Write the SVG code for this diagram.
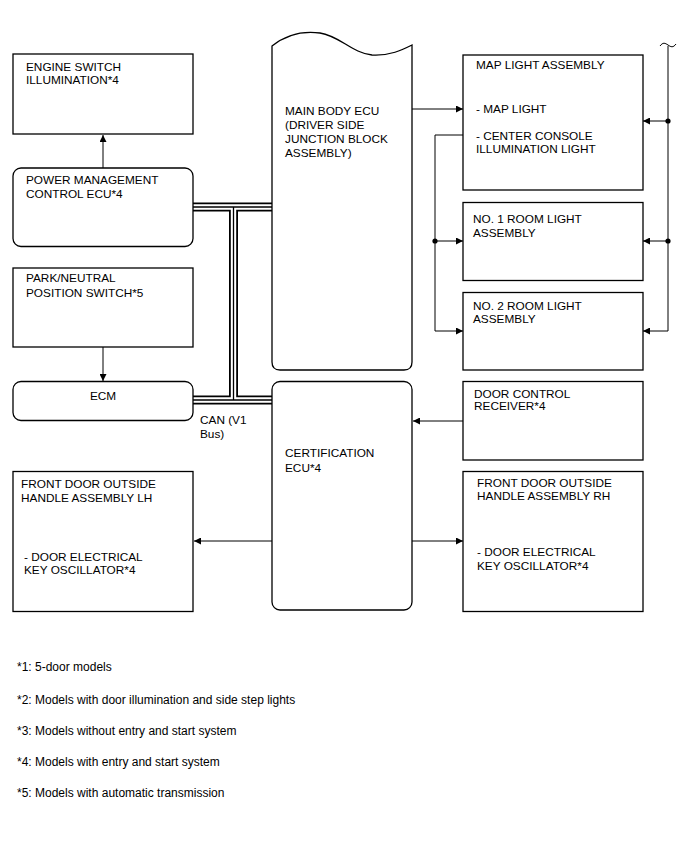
<svg xmlns="http://www.w3.org/2000/svg" width="688" height="852" viewBox="0 0 688 852">
<style>
text{font-family:"Liberation Sans",Arial,sans-serif;font-size:11.8px;fill:#000}
.box{fill:#fff;stroke:#000;stroke-width:1.3}
.ln{fill:none;stroke:#000;stroke-width:1}
.fn{font-size:12px}
</style>
<defs>
<marker id="ah" viewBox="0 0 10 10" refX="10" refY="5" markerWidth="9" markerHeight="7" markerUnits="userSpaceOnUse" orient="auto">
<path d="M0,0 L10,5 L0,10 Z" fill="#000"/>
</marker>
</defs>
<rect width="688" height="852" fill="#fff"/>
<g id="connectors">
<path class="ln" d="M103,168 V135" marker-end="url(#ah)"/>
<path class="ln" d="M103,347 V381" marker-end="url(#ah)"/>
<path class="ln" d="M412,109 H463" marker-end="url(#ah)"/>
<path class="ln" d="M463,135 H435 V331 H463" marker-end="url(#ah)"/>
<path class="ln" d="M435,241 H463" marker-end="url(#ah)"/>
<circle cx="435" cy="241" r="2.6"/>
<path class="ln" d="M668,46 V331 H643" marker-end="url(#ah)"/>
<path class="ln" d="M668,121 H643" marker-end="url(#ah)"/>
<path class="ln" d="M668,241 H643" marker-end="url(#ah)"/>
<circle cx="668" cy="121" r="2.6"/>
<circle cx="668" cy="241" r="2.6"/>
<path class="ln" d="M660,46 c3,-4 5,-3 8,-1 s5,3 8,-1"/>
<path class="ln" d="M463,421 H413" marker-end="url(#ah)"/>
<path class="ln" d="M272,541 H194" marker-end="url(#ah)"/>
<path class="ln" d="M412,541 H463" marker-end="url(#ah)"/>
<g id="can-bus" fill="none" stroke-linecap="butt">
<path d="M193,207 H272 M233.5,207 V400 M193,400 H272" stroke="#000" stroke-width="9"/>
<path d="M193,207 H272 M233.5,207 V400 M193,400 H272" stroke="#fff" stroke-width="5.4"/>
<path d="M193,207 H272 M233.5,207 V400 M193,400 H272" stroke="#000" stroke-width="1.3"/>
</g>
<text x="200" y="424">CAN (V1</text>
<text x="200" y="437.5">Bus)</text>
</g>
<g id="engine-switch">
<rect class="box" x="13" y="54" width="180" height="80"/>
<text x="26" y="71">ENGINE SWITCH</text>
<text x="26" y="84">ILLUMINATION*4</text>
</g>
<g id="pmc-ecu">
<rect class="box" x="13" y="168" width="180" height="78.5" rx="8"/>
<text x="26" y="183.5">POWER MANAGEMENT</text>
<text x="26" y="198">CONTROL ECU*4</text>
</g>
<g id="park-neutral">
<rect class="box" x="13" y="268" width="180" height="79"/>
<text x="26" y="282">PARK/NEUTRAL</text>
<text x="26" y="296.5">POSITION SWITCH*5</text>
</g>
<g id="ecm">
<rect class="box" x="13" y="381.5" width="180" height="39" rx="8"/>
<text x="103" y="400" text-anchor="middle">ECM</text>
</g>
<g id="main-body-ecu">
<path class="box" d="M272,46 C287,34 305,31 320,33 C340,36 352,53 372,55 C390,56 402,50 412,45 V362 Q412,370 404,370 H280 Q272,370 272,362 Z"/>
<text x="285" y="115">MAIN BODY ECU</text>
<text x="285" y="129">(DRIVER SIDE</text>
<text x="285" y="143">JUNCTION BLOCK</text>
<text x="285" y="157">ASSEMBLY)</text>
</g>
<g id="certification-ecu">
<rect class="box" x="272" y="381.5" width="140" height="228.5" rx="8"/>
<text x="285" y="457">CERTIFICATION</text>
<text x="285" y="472">ECU*4</text>
</g>
<g id="map-light">
<rect class="box" x="463" y="55" width="180" height="135"/>
<text x="476" y="69">MAP LIGHT ASSEMBLY</text>
<text x="476" y="112.5">- MAP LIGHT</text>
<text x="476" y="140">- CENTER CONSOLE</text>
<text x="476" y="152.5">ILLUMINATION LIGHT</text>
</g>
<g id="room-light-1">
<rect class="box" x="463" y="202.5" width="180" height="78"/>
<text x="473" y="223">NO. 1 ROOM LIGHT</text>
<text x="473" y="236.5">ASSEMBLY</text>
</g>
<g id="room-light-2">
<rect class="box" x="463" y="292.5" width="180" height="77.5"/>
<text x="473" y="310">NO. 2 ROOM LIGHT</text>
<text x="473" y="323">ASSEMBLY</text>
</g>
<g id="door-control-receiver">
<rect class="box" x="463" y="381.5" width="180" height="78.5"/>
<text x="474" y="397.5">DOOR CONTROL</text>
<text x="474" y="410">RECEIVER*4</text>
</g>
<g id="handle-lh">
<rect class="box" x="13" y="471.5" width="180" height="140"/>
<text x="21" y="488">FRONT DOOR OUTSIDE</text>
<text x="21" y="501.5">HANDLE ASSEMBLY LH</text>
<text x="24" y="561">- DOOR ELECTRICAL</text>
<text x="24" y="574">KEY OSCILLATOR*4</text>
</g>
<g id="handle-rh">
<rect class="box" x="463" y="471.5" width="180" height="140"/>
<text x="477" y="486.5">FRONT DOOR OUTSIDE</text>
<text x="477" y="500">HANDLE ASSEMBLY RH</text>
<text x="477" y="556">- DOOR ELECTRICAL</text>
<text x="477" y="570">KEY OSCILLATOR*4</text>
</g>
<g id="footnotes">
<text class="fn" x="17" y="671">*1: 5-door models</text>
<text class="fn" x="17" y="704">*2: Models with door illumination and side step lights</text>
<text class="fn" x="17" y="735">*3: Models without entry and start system</text>
<text class="fn" x="17" y="766">*4: Models with entry and start system</text>
<text class="fn" x="17" y="797">*5: Models with automatic transmission</text>
</g>
</svg>
